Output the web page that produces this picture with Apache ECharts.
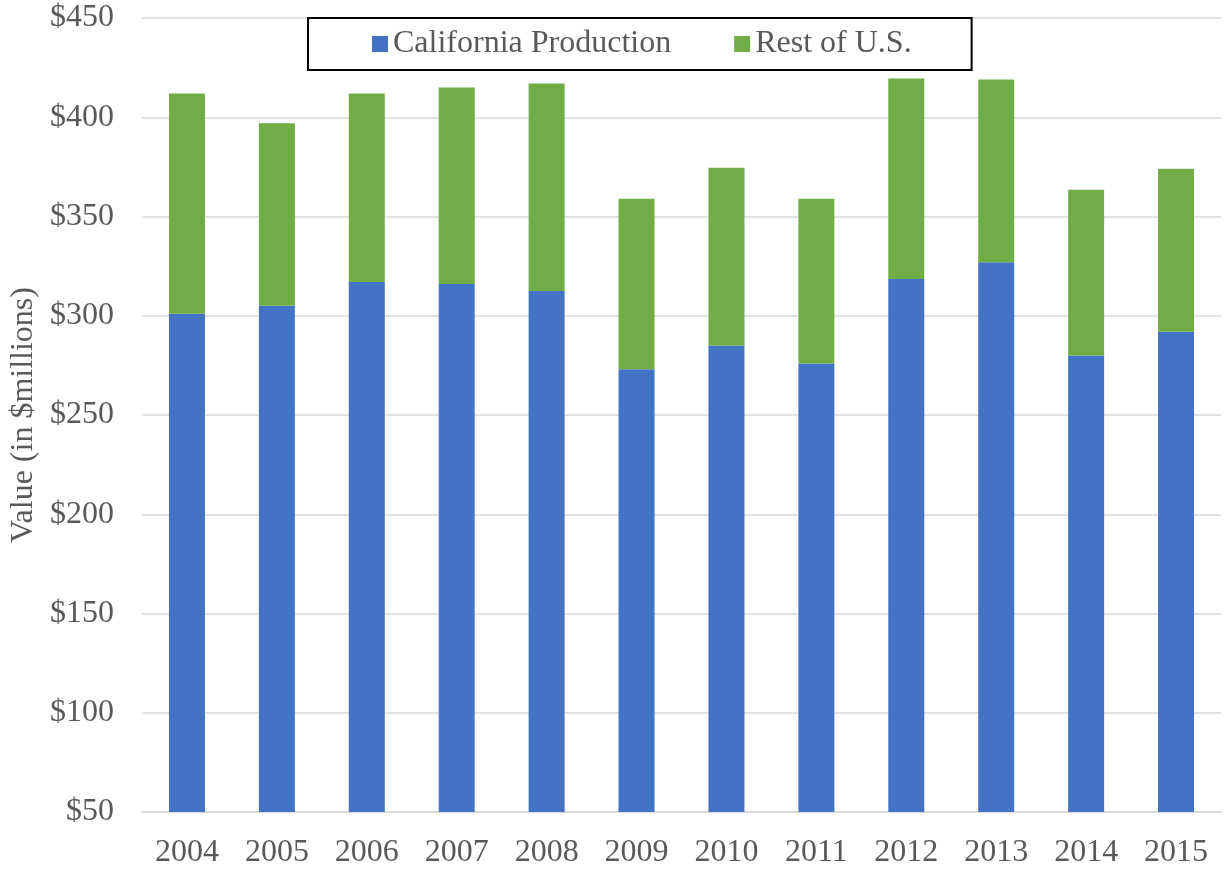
<!DOCTYPE html>
<html>
<head>
<meta charset="utf-8">
<script src="https://cdn.jsdelivr.net/npm/echarts@6/dist/echarts.min.js"></script>
<style>
  html, body { margin: 0; padding: 0; background: #fff; }
  #chart { width: 1224px; height: 869px; }
</style>
</head>
<body>
<div id="chart"></div>
<script>
var years = ['2004', '2005', '2006', '2007', '2008', '2009', '2010', '2011', '2012', '2013', '2014', '2015'];
var california = [301, 305, 317, 316, 312.5, 273, 285, 276, 318.5, 327, 280, 292];
var restOfUS = [111, 92, 95, 99, 104.5, 86, 89.5, 83, 101, 92, 83.5, 82];

var font = '"Liberation Serif", "Times New Roman", serif';
var textColor = '#595959';

var myChart = echarts.init(document.getElementById('chart'));
var option = {
    animation: false,
    backgroundColor: '#fff',
    textStyle: { fontFamily: font },
    legend: {
        left: 308,
        top: 18,
        padding: [10, 60, 10, 64],
        borderColor: '#000',
        borderWidth: 2,
        itemWidth: 16,
        itemHeight: 16,
        itemGap: 63,
        icon: 'rect',
        textStyle: { fontFamily: font, fontSize: 32, color: textColor },
        data: ['California Production', 'Rest of U.S.']
    },
    grid: { left: 142, right: 3, top: 18, bottom: 57, outerBoundsMode: 'none' },
    xAxis: {
        type: 'category',
        data: years,
        axisLine: { lineStyle: { color: '#D9D9D9', width: 1.5 } },
        axisTick: { show: false },
        axisLabel: { fontFamily: font, fontSize: 32, color: textColor, margin: 25 }
    },
    yAxis: {
        type: 'value',
        min: 50,
        max: 450,
        interval: 50,
        name: 'Value (in $millions)',
        nameLocation: 'middle',
        nameRotate: 90,
        nameGap: 98,
        nameTextStyle: { fontFamily: font, fontSize: 32, color: textColor },
        axisLine: { show: false },
        axisTick: { show: false },
        splitLine: { lineStyle: { color: '#D9D9D9', width: 1.5 } },
        axisLabel: {
            fontFamily: font, fontSize: 32, color: textColor, margin: 28,
            formatter: function (v) { return '$' + v; }
        }
    },
    series: [
        {
            name: 'California Production',
            type: 'bar',
            stack: 'total',
            barWidth: 36,
            itemStyle: { color: '#4472C4' },
            data: california
        },
        {
            name: 'Rest of U.S.',
            type: 'bar',
            stack: 'total',
            barWidth: 36,
            itemStyle: { color: '#70AD47' },
            data: restOfUS
        }
    ]
};
myChart.setOption(option);
</script>
</body>
</html>
